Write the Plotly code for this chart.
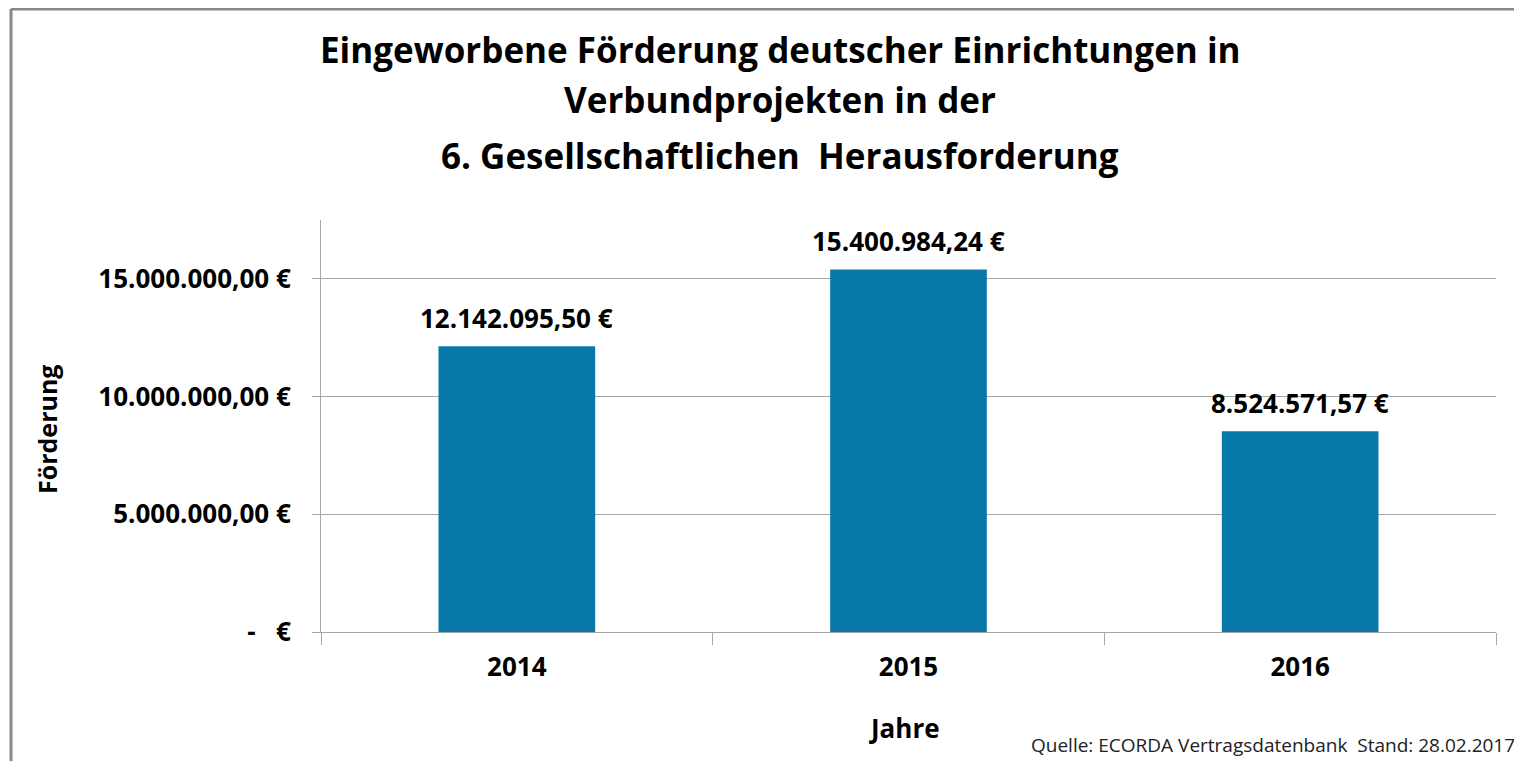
import plotly.graph_objects as go

years = ["2014", "2015", "2016"]
funding = [12142095.50, 15400984.24, 8524571.57]
y_ticks = [0, 5000000, 10000000, 15000000]
y_tick_labels = ["-   €", "5.000.000,00 €", "10.000.000,00 €", "15.000.000,00 €"]

title_lines = ["Eingeworbene Förderung deutscher Einrichtungen in",
               "Verbundprojekten in der",
               "6. Gesellschaftlichen  Herausforderung"]
source_text = "Quelle: ECORDA Vertragsdatenbank  Stand: 28.02.2017"


def de_eur(v):
    s = f"{v:,.2f}"
    s = s.replace(",", "X").replace(".", ",").replace("X", ".")
    return s + " €"


FONT = "Open Sans"
BAR = "#0878A8"
GRID = "#A6A6A6"
LBL = 26

# figure is placed by the page at an 8px offset; plot area in figure px
W, H = 1514, 753
L, T, PW, PH = 313, 212, 1175, 412


def px(xf):
    return (xf - L) / PW


def py(yf):
    return (T + PH - yf) / PH


fig = go.Figure(go.Bar(
    x=years, y=funding,
    marker=dict(color=BAR, line=dict(width=0)),
    width=0.4,
    hoverinfo="x+y",
))

fig.update_layout(
    width=W, height=H,
    paper_bgcolor="white", plot_bgcolor="white",
    margin=dict(l=L, r=W - L - PW, t=T, b=H - T - PH),
    showlegend=False,
    font=dict(family=FONT, color="#000000"),
)

fig.update_yaxes(
    range=[0, 17500000],
    tickvals=y_ticks, ticktext=y_tick_labels,
    tickfont=dict(family=FONT, size=LBL, color="#000000", weight="bold"),
    showgrid=True, gridcolor=GRID, gridwidth=1,
    showline=True, linecolor=GRID, linewidth=1,
    ticks="outside", ticklen=8, tickcolor=GRID,
    ticklabelstandoff=16,
    zeroline=False,
)

fig.update_xaxes(
    type="category", range=[-0.5, 2.5],
    showline=True, linecolor=GRID, linewidth=1,
    ticks="outside", ticklen=12, tickcolor=GRID, tickson="boundaries",
    tickfont=dict(family=FONT, size=LBL, color="#000000", weight="bold"),
    ticklabelstandoff=12, tickangle=0,
)

# value labels above bars (category index positions)
for i, v in enumerate(funding):
    fig.add_annotation(x=i, y=v, xref="x", yref="y", text=de_eur(v),
                       showarrow=False, yanchor="bottom", yshift=8,
                       font=dict(family=FONT, size=LBL, color="#000000", weight="bold"))

# title lines
for txt, yc in zip(title_lines, [42, 92, 147]):
    fig.add_annotation(text=txt, xref="paper", yref="paper", x=px(772), y=py(yc),
                       xanchor="center", yanchor="middle", showarrow=False,
                       font=dict(family=FONT, size=35, color="#000000", weight="bold"))

# axis titles
fig.add_annotation(text="Förderung", xref="paper", yref="paper", x=px(39), y=py(422),
                   textangle=-90, xanchor="center", yanchor="middle", showarrow=False,
                   font=dict(family=FONT, size=25, color="#000000", weight="bold"))
fig.add_annotation(text="Jahre", xref="paper", yref="paper", x=px(896), y=py(720),
                   xanchor="center", yanchor="middle", showarrow=False,
                   font=dict(family=FONT, size=LBL, color="#000000", weight="bold"))

# source note
fig.add_annotation(text=source_text, xref="paper", yref="paper", x=px(1509), y=py(737),
                   xanchor="right", yanchor="middle", showarrow=False,
                   font=dict(family=FONT, size=19, color="#222222"))

# outer chart frame (left and top edges)
fig.add_shape(type="line", xref="paper", yref="paper",
              x0=px(3), x1=px(3), y0=py(H + 20), y1=py(1),
              line=dict(color="#888888", width=3))
fig.add_shape(type="line", xref="paper", yref="paper",
              x0=px(3), x1=px(W + 20), y0=py(1), y1=py(1),
              line=dict(color="#888888", width=3))

fig.write_html("out.html")
